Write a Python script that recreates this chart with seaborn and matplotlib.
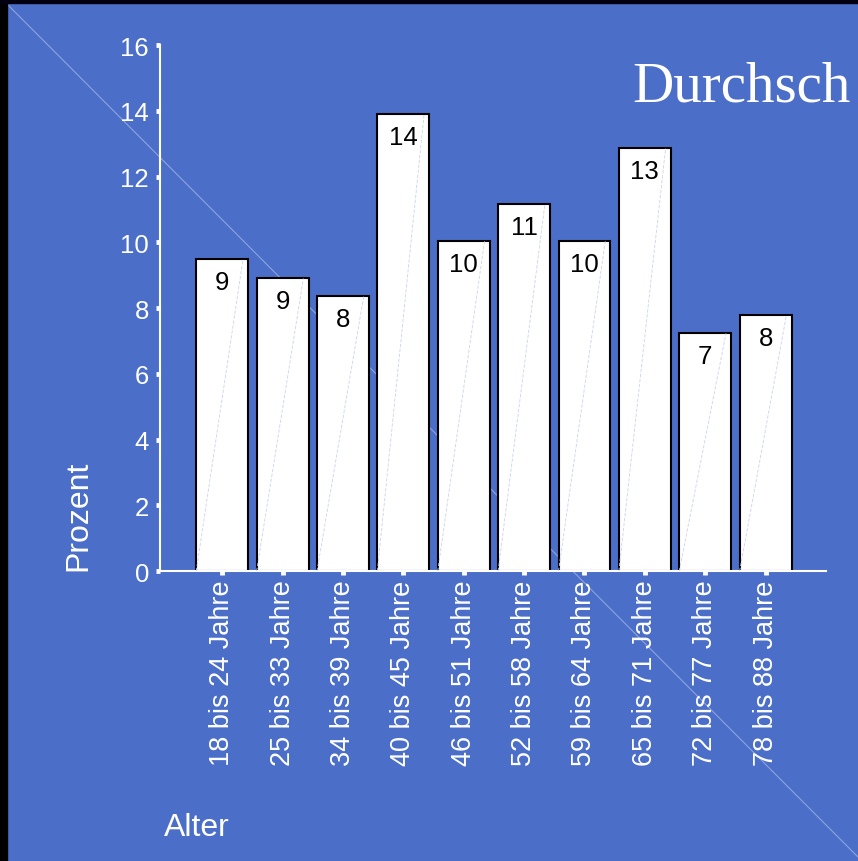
import matplotlib
matplotlib.use("Agg")
import matplotlib.pyplot as plt
import seaborn as sns
from matplotlib.lines import Line2D
from matplotlib.patches import Rectangle

# data
categories = ["18 bis 24 Jahre", "25 bis 33 Jahre", "34 bis 39 Jahre", "40 bis 45 Jahre",
              "46 bis 51 Jahre", "52 bis 58 Jahre", "59 bis 64 Jahre", "65 bis 71 Jahre",
              "72 bis 77 Jahre", "78 bis 88 Jahre"]
percent = [9.48, 8.9, 8.36, 13.9, 10.03, 11.15, 10.03, 12.86, 7.23, 7.78]
bar_labels = ["9", "9", "8", "14", "10", "11", "10", "13", "7", "8"]
y_ticks = [0, 2, 4, 6, 8, 10, 12, 14, 16]

bg = "#4b6ec8"
sns.set_style("white")
plt.rcParams["font.family"] = ["Liberation Sans", "DejaVu Sans"]

fig = plt.figure(figsize=(8.58, 8.62), dpi=100, facecolor=bg)

# background diagonal (behind everything) and dark frame
fig.add_artist(Line2D([7 / 858, 1.0], [1 - 5 / 862, 1 - 858 / 862],
                      transform=fig.transFigure, color="#8ea4de", lw=0.8, zorder=0))

ax = fig.add_axes([0.1865, 0.3364, 0.7762, 0.6102])
ax.patch.set_alpha(0)

sns.barplot(x=categories, y=percent, color="white", edgecolor="black",
            linewidth=1.5, width=0.86, saturation=1, ax=ax)

# faint diagonal artefacts inside the bars
for p in ax.patches:
    x0, w, h = p.get_x(), p.get_width(), p.get_height()
    ax.plot([x0, x0 + w * 0.9], [0, h], color="#c9d3f2", lw=0.6, ls=(0, (4, 2)), zorder=3)

texts = ax.bar_label(ax.containers[0], labels=bar_labels, padding=-16.5,
                     fontsize=18.5, color="black")
for t in texts:
    t.set_va("center")

ax.set_xlim(-1.03, 10.0)
ax.set_ylim(0, 16)
ax.set_yticks(y_ticks)
ax.set_xlabel("")
ax.set_ylabel("")

for s in ["top", "right"]:
    ax.spines[s].set_visible(False)
for s in ["left", "bottom"]:
    ax.spines[s].set_color("white")
    ax.spines[s].set_linewidth(1.5)

ax.tick_params(axis="y", colors="white", labelsize=18.5, length=3, width=3.5,
               direction="out", pad=5, left=True)
ax.tick_params(axis="x", colors="white", labelsize=19.5, length=3, width=3.5,
               direction="out", pad=3, bottom=True, labelrotation=90)

fig.text(78 / 858, 1 - 516 / 862, "Prozent", rotation=90, color="white",
         fontsize=23, ha="center", va="center")
fig.text(197 / 858, 1 - 828 / 862, "Alter", color="white",
         fontsize=23, ha="center", va="center")
fig.text(632 / 858, 1 - 102 / 862, "Durchsch", color="white", fontsize=41,
         family="Liberation Serif", ha="left", va="baseline")

fig.add_artist(Rectangle((0, 0), 7 / 858, 1, transform=fig.transFigure,
                         color="black", zorder=5))
fig.add_artist(Rectangle((0, 1 - 4 / 862), 1, 4 / 862, transform=fig.transFigure,
                         color="#000010", zorder=5))

fig.savefig("out.png", dpi=100, facecolor=bg)
plt.close(fig)
